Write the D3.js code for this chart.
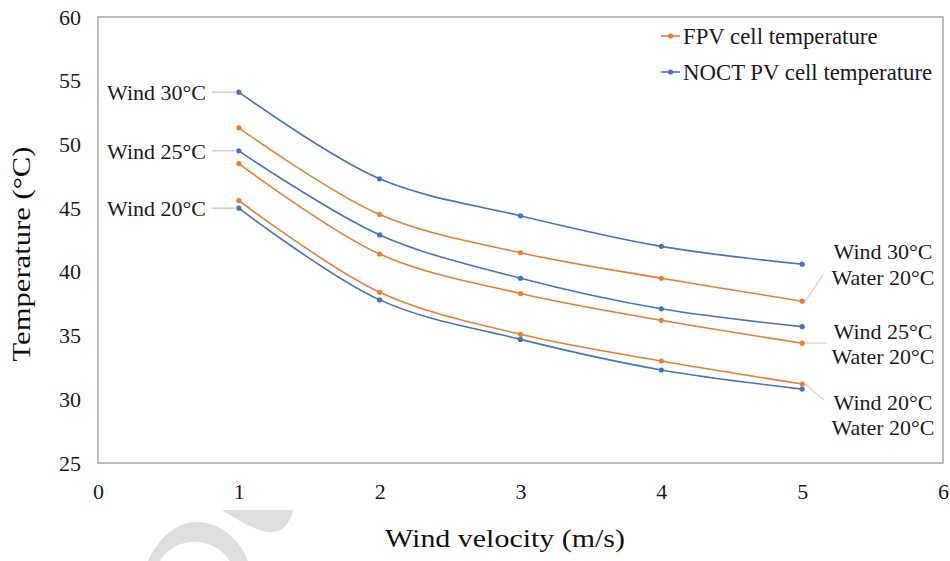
<!DOCTYPE html>
<html>
<head>
<meta charset="utf-8">
<script src="https://cdn.jsdelivr.net/npm/d3@7"></script>
<style>
  html, body { margin: 0; padding: 0; background: #fff; }
  svg { display: block; }
</style>
</head>
<body>
<svg id="chart" width="950" height="561"></svg>
<script>
// Wind velocity (m/s)
const windSpeeds = [1, 2, 3, 4, 5];

// Cell temperatures (°C) for each ambient (wind) temperature case
const fpv20  = [45.6, 38.4, 35.1, 33.0, 31.2];
const fpv25  = [48.5, 41.4, 38.3, 36.2, 34.4];
const fpv30  = [51.3, 44.5, 41.5, 39.5, 37.7];
const noct20 = [45.0, 37.8, 34.7, 32.3, 30.8];
const noct25 = [49.5, 42.9, 39.5, 37.1, 35.7];
const noct30 = [54.1, 47.3, 44.4, 42.0, 40.6];

const xTicks = [0, 1, 2, 3, 4, 5, 6];
const yTicks = [25, 30, 35, 40, 45, 50, 55, 60];

const legendLabels = ["FPV cell temperature", "NOCT PV cell temperature"];
const leftLabels = ["Wind 30\u00B0C", "Wind 25\u00B0C", "Wind 20\u00B0C"];
const rightLabels = [
  ["Wind 30\u00B0C", "Water 20\u00B0C"],
  ["Wind 25\u00B0C", "Water 20\u00B0C"],
  ["Wind 20\u00B0C", "Water 20\u00B0C"]
];

const orange = "#ED7D31";
const blue = "#4472C4";
const SERIF = "'Liberation Serif'";
const INK = "#1a1a1a";

const svg = d3.select("#chart");

// helper: serif text with explicit font settings
function serifText(sel, size) {
  return sel.style("font-family", SERIF)
    .style("font-size", size + "px").attr("fill", INK);
}

// faint decorative mark in the lower-left margin
const mark = svg.append("g").attr("fill", "#dedede");
mark.append("path")
  .attr("d", "M222,510 L293,510 C290,524 282,533 270,532 C255,531 238,520 222,510 Z");
mark.append("path")
  .attr("d", "M148,561 C160,535 178,522 198,522 C222,523 240,540 248,561 L230,561 C222,548 205,540 190,542 C175,544 165,552 160,561 Z");

const x = d3.scaleLinear().domain([0, 6]).range([98, 943]);
const y = d3.scaleLinear().domain([25, 60]).range([463, 17]);

// plot frame
svg.append("rect")
  .attr("x", x(0)).attr("y", y(60))
  .attr("width", x(6) - x(0)).attr("height", y(25) - y(60))
  .attr("fill", "none").attr("stroke", "#a6a6a6").attr("stroke-width", 1.5);

// axes (labels only, no tick marks)
const xAxis = svg.append("g")
  .attr("transform", `translate(0,${y(25)})`)
  .call(d3.axisBottom(x).tickValues(xTicks).tickSize(0).tickPadding(20).tickFormat(d3.format("d")));
xAxis.select(".domain").remove();
serifText(xAxis.selectAll("text"), 22);

const yAxis = svg.append("g")
  .attr("transform", `translate(${x(0)},0)`)
  .call(d3.axisLeft(y).tickValues(yTicks).tickSize(0).tickPadding(17).tickFormat(d3.format("d")));
yAxis.select(".domain").remove();
serifText(yAxis.selectAll("text"), 22);

// axis titles
serifText(svg.append("text"), 25)
  .attr("x", 505).attr("y", 547)
  .attr("text-anchor", "middle")
  .attr("textLength", 240).attr("lengthAdjust", "spacingAndGlyphs")
  .attr("fill", "#111")
  .text("Wind velocity (m/s)");

serifText(svg.append("text"), 25)
  .attr("transform", `translate(30,254) rotate(-90)`)
  .attr("text-anchor", "middle")
  .attr("textLength", 215).attr("lengthAdjust", "spacingAndGlyphs")
  .attr("fill", "#111")
  .text("Temperature (\u00B0C)");

// series
const series = [
  { values: noct30, color: blue },
  { values: fpv30, color: orange },
  { values: noct25, color: blue },
  { values: fpv25, color: orange },
  { values: fpv20, color: orange },
  { values: noct20, color: blue }
];

const line = d3.line()
  .x((d, i) => x(windSpeeds[i]))
  .y(d => y(d))
  .curve(d3.curveCatmullRom.alpha(0.5));

const sg = svg.append("g").selectAll("g").data(series).join("g");
sg.append("path")
  .attr("d", d => line(d.values))
  .attr("fill", "none")
  .attr("stroke", d => d.color)
  .attr("stroke-width", 1.6);
sg.selectAll("circle")
  .data(d => d.values.map((v, i) => ({ v, i, c: d.color })))
  .join("circle")
  .attr("cx", d => x(windSpeeds[d.i]))
  .attr("cy", d => y(d.v))
  .attr("r", 2.6)
  .attr("fill", d => d.c);

// left-side labels pointing at the first NOCT point of each case
const leftTargets = [noct30[0], noct25[0], noct20[0]];
leftLabels.forEach((lab, k) => {
  const py = y(leftTargets[k]);
  svg.append("line")
    .attr("x1", 212).attr("x2", x(windSpeeds[0]) - 2)
    .attr("y1", py).attr("y2", py)
    .attr("stroke", "#b8c3dc").attr("stroke-width", 1.2);
  serifText(svg.append("text"), 22)
    .attr("x", 206).attr("y", py)
    .attr("dy", "0.35em")
    .attr("text-anchor", "end")
    .text(lab);
});

// right-side labels pointing at the last FPV point of each case
const rightTargets = [fpv30[4], fpv25[4], fpv20[4]];
const rightText = [[251, 277], [331, 356], [402, 427]];
const rightEnds = [[823, 275], [827, 343], [824, 400]];
rightLabels.forEach((pair, k) => {
  const px = x(windSpeeds[4]);
  const py = y(rightTargets[k]);
  svg.append("line")
    .attr("x1", px + 3).attr("y1", py)
    .attr("x2", rightEnds[k][0]).attr("y2", rightEnds[k][1])
    .attr("stroke", "#efc9ad").attr("stroke-width", 1.2);
  pair.forEach((t, j) => {
    serifText(svg.append("text"), 22)
      .attr("x", 883).attr("y", rightText[k][j])
      .attr("dy", "0.35em")
      .attr("text-anchor", "middle")
      .text(t);
  });
});

// legend
const legend = svg.append("g");
[[orange, 36], [blue, 72]].forEach(([c, ly], k) => {
  legend.append("line")
    .attr("x1", 661).attr("x2", 680).attr("y1", ly).attr("y2", ly)
    .attr("stroke", c).attr("stroke-width", 1.6);
  legend.append("circle").attr("cx", 670.5).attr("cy", ly).attr("r", 2.6).attr("fill", c);
  serifText(legend.append("text"), 22.8)
    .attr("x", 683).attr("y", ly).attr("dy", "0.35em")
    .text(legendLabels[k]);
});
</script>
</body>
</html>
